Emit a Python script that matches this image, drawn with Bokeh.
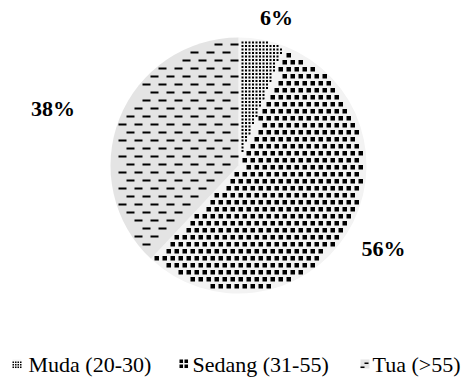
import math
from bokeh.plotting import figure
from bokeh.models import Range1d, ColumnDataSource
from bokeh.core.properties import value
from bokeh.embed import file_html
from bokeh.resources import INLINE

categories = ["Muda (20-30)", "Sedang (31-55)", "Tua (>55)"]
shares = [6, 56, 38]
labels = ["6%", "56%", "38%"]

W, H = 472, 382
cx, cy, R = 238, H - 165, 128
# label placement (layout): distance from centre and angular nudge (deg)
label_dist = [153, 167, 194]
label_nudge = [-3.6, 2.6, 4.6]
# legend layout (screen px)
leg_patch_left = [12, 179, 360]
leg_patch_top = 359
leg_patch_size = 9
leg_text_x = [28, 192, 372]
leg_text_mid = H - 364

fills = ["#f5f5f5", "#f3f3f3", "#e4e4e4"]
# pattern styles: mark w, h, period x, period y, row stagger
patterns = [
    dict(w=2, h=2, px=3.5, py=3.5, st=0),
    dict(w=4.5, h=4.5, px=8, py=7, st=4),
    dict(w=8, h=2, px=16, py=8, st=8),
]
legend_patterns = [
    dict(w=1.5, h=1.5, px=2.5, py=2.5, st=0),
    dict(w=3.5, h=3.5, px=5, py=5, st=0),
    dict(w=4, h=1.5, px=8, py=4, st=4),
]

p = figure(width=W, height=H, output_backend="svg", toolbar_location=None,
           x_range=Range1d(0, W), y_range=Range1d(0, H), min_border=0)
p.axis.visible = False
p.grid.visible = False
p.outline_line_color = None


def frac_of(x, y, top_end):
    a = math.degrees(math.atan2(y - cy, x - cx))
    f = ((90 - a) % 360) / 360
    if top_end and f < 1e-6:
        f = 1.0
    return f


def marks(style, inside, x0, y0, x1, y1):
    L, Rr, B, T = [], [], [], []
    j = 0
    y = y0
    while y < y1:
        off = (j % 2) * style["st"]
        x = x0 + off - style["px"]
        while x < x1:
            l, r, b, t = x, x + style["w"], y, y + style["h"]
            if inside(l, r, b, t):
                L.append(l); Rr.append(r); B.append(b); T.append(t)
            x += style["px"]
        y += style["py"]
        j += 1
    return L, Rr, B, T


total = sum(shares)
cum = 0.0
lx, ly = [], []
for i, (c, s) in enumerate(zip(categories, shares)):
    lo = cum / total
    hi = (cum + s) / total
    start = math.pi / 2 - 2 * math.pi * lo
    end = math.pi / 2 - 2 * math.pi * hi
    src = ColumnDataSource(dict(x=[cx], y=[cy], sa=[start], ea=[end]))
    p.wedge(x="x", y="y", radius=R, start_angle="sa", end_angle="ea",
            direction="clock", source=src, fill_color=fills[i],
            line_color=None)

    def inside(l, r, b, t, lo=lo, hi=hi):
        for (x, y) in ((l, b), (l, t), (r, b), (r, t)):
            if math.hypot(x - cx, y - cy) > R - 0.5:
                return False
            f = frac_of(x, y, hi >= 0.9999)
            if not (lo <= f <= hi):
                return False
        return True

    st = patterns[i]
    L, Rr, B, T = marks(st, inside, cx - R - 16, cy - R - 16, cx + R + 16, cy + R + 16)
    p.quad(left=L, right=Rr, bottom=B, top=T, fill_color="black", line_color=None)

    mid = (start + end) / 2 + math.radians(label_nudge[i])
    lx.append(cx + label_dist[i] * math.cos(mid))
    ly.append(cy + label_dist[i] * math.sin(mid))

    # legend patch
    pl = leg_patch_left[i]
    pt = H - leg_patch_top
    pb = pt - leg_patch_size
    pr = pl + leg_patch_size
    p.quad(left=[pl], right=[pr], top=[pt], bottom=[pb], fill_color=fills[i],
           line_color=None)
    lL, lR, lB, lT = marks(legend_patterns[i],
                           lambda l, r, b, t, pl=pl, pr=pr, pb=pb, pt=pt:
                           l >= pl and r <= pr and b >= pb and t <= pt,
                           pl, pb + 0.5, pr, pt)
    p.quad(left=lL, right=lR, bottom=lB, top=lT, fill_color="black", line_color=None)
    cum += s

p.text(x=lx, y=ly, text=labels, text_font=value("Liberation Serif"),
       text_font_style="bold", text_font_size="22px", text_align="center",
       text_baseline="middle", text_color="black")

p.text(x=leg_text_x, y=[leg_text_mid] * 3, text=categories,
       text_font=value("Liberation Serif"), text_font_size="22px",
       text_align="left", text_baseline="middle", text_color="black")

open("out.html", "w").write(file_html(p, INLINE))
